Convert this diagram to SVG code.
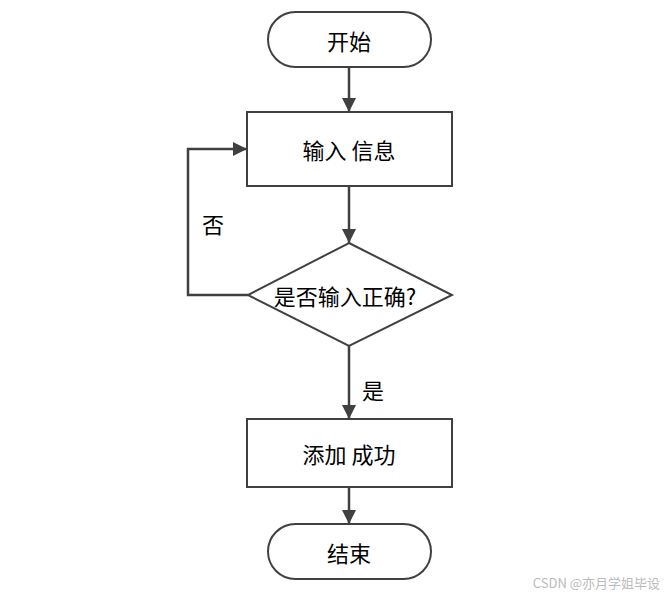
<svg xmlns="http://www.w3.org/2000/svg" width="667" height="597" viewBox="0 0 667 597">
<style>
.shape{fill:#fff;stroke:#404040;stroke-width:2}
.conn{fill:none;stroke:#404040;stroke-width:2.5}
.t{font-family:"Noto Sans CJK SC","Noto Sans",sans-serif;font-size:22px;fill:#000;text-anchor:middle;dominant-baseline:central}
.wm{font-family:"Noto Sans CJK SC","Noto Sans",sans-serif;font-size:13px;fill:#bbb;text-anchor:end}
</style>
<defs>
<marker id="ah" markerWidth="14" markerHeight="14" refX="14" refY="7" orient="auto" markerUnits="userSpaceOnUse">
<path d="M0,0 L14,7 L0,14 Z" fill="#404040"/>
</marker>
</defs>
<rect width="667" height="597" fill="#fff"/>
<g id="connectors">
<line class="conn" x1="349" y1="67" x2="349" y2="112" marker-end="url(#ah)"/>
<line class="conn" x1="349" y1="186" x2="349" y2="243" marker-end="url(#ah)"/>
<polyline class="conn" points="248,295 188,295 188,149 247,149" marker-end="url(#ah)"/>
<line class="conn" x1="349" y1="346" x2="349" y2="419" marker-end="url(#ah)"/>
<line class="conn" x1="349" y1="487" x2="349" y2="524" marker-end="url(#ah)"/>
<text class="t" x="213" y="223">否</text>
<text class="t" x="373" y="389">是</text>
</g>
<g id="start">
<rect class="shape" x="268" y="12" width="163" height="55" rx="27.5"/>
<text class="t" x="349" y="40">开始</text>
</g>
<g id="input">
<rect class="shape" x="247" y="112" width="205" height="74"/>
<text class="t" x="349" y="149">输入 信息</text>
</g>
<g id="check">
<polygon class="shape" points="349,243 452,295 349,346 248,295"/>
<text class="t" x="345" y="295">是否输入正确?</text>
</g>
<g id="success">
<rect class="shape" x="247" y="419" width="205" height="68"/>
<text class="t" x="349" y="453">添加 成功</text>
</g>
<g id="end">
<rect class="shape" x="268" y="524" width="163" height="55" rx="27.5"/>
<text class="t" x="349" y="552">结束</text>
</g>
<text class="wm" x="660" y="588">CSDN @亦月学姐毕设</text>
</svg>
